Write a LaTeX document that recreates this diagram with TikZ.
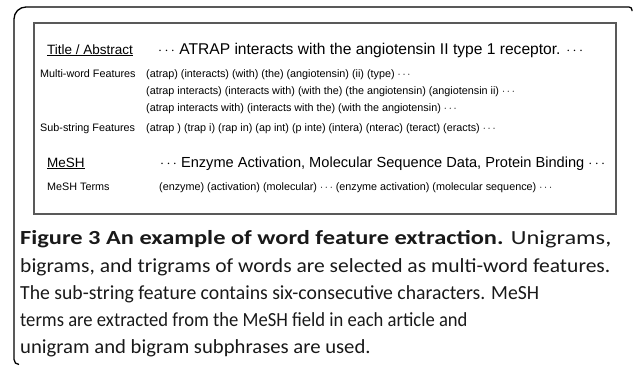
\documentclass[tikz,border=0pt]{standalone}
\usepackage{fontspec}
\setmainfont{Liberation Sans}
\newfontfamily\capfont{Carlito}
\begin{document}
\begin{tikzpicture}[x=1pt,y=-1pt,
  big/.style={anchor=base west,inner sep=0pt,font=\fontsize{13.5}{15}\selectfont},
  bigger/.style={anchor=base west,inner sep=0pt,font=\fontsize{15.6}{17}\selectfont},
  meshline/.style={anchor=base west,inner sep=0pt,font=\fontsize{14.6}{17}\selectfont},
  small/.style={anchor=base west,inner sep=0pt,font=\fontsize{10.8}{12}\selectfont},
  captext/.style={anchor=base west,inner sep=0pt,font=\capfont\fontsize{20}{24}\selectfont,text=black!90},
  frame/.style={line width=1.3pt,black},
  inbox/.style={line width=1.1pt,black!65}]
\useasboundingbox (0,0) rectangle (633,367);
% outer frame
\draw[frame,rounded corners=5] (19,364.5) -- (14,364.5) [rounded corners=12] -- (14,7) [rounded corners=3] -- (632,7) -- (632,11);
% inner box
\draw[inbox] (34,23) rectangle (616,214);
% texts
\node[big] (ta) at (47,54) {\underline{Title / Abstract}};
\node[bigger] (tat) at (158,54) {$\cdots$ ATRAP interacts with the angiotensin II type 1 receptor. $\cdots$};
\node[small] (mw) at (40,77) {Multi-word Features};
\node[small] (mw1) at (146,77) {(atrap) (interacts) (with) (the) (angiotensin) (ii) (type) $\cdots$};
\node[small] (mw2) at (146,94) {(atrap interacts) (interacts with) (with the) (the angiotensin) (angiotensin ii) $\cdots$};
\node[small] (mw3) at (146,111) {(atrap interacts with) (interacts with the) (with the angiotensin) $\cdots$};
\node[small] (ss) at (40,131) {Sub-string Features};
\node[small] (ss1) at (146,131) {(atrap ) (trap i) (rap in) (ap int) (p inte) (intera) (nterac) (teract) (eracts) $\cdots$};
\node[big] (me) at (47,167) {\underline{MeSH}};
\node[meshline] (met) at (160,167) {$\cdots$ Enzyme Activation, Molecular Sequence Data, Protein Binding $\cdots$};
\node[small] (mt) at (47,190) {MeSH Terms};
\node[small] (mt1) at (159,190) {(enzyme) (activation) (molecular) $\cdots$ (enzyme activation) (molecular sequence) $\cdots$};
% caption
\node[captext] (c1) at (20,244) {\scalebox{1.22}[1]{\textbf{Figure 3 An example of word feature extraction.} Unigrams,}};
\node[captext] (c2) at (20,272) {\scalebox{1.077}[1]{bigrams, and trigrams of words are selected as multi-word features.}};
\node[captext] (c3) at (20,299) {\scalebox{0.985}[1]{The sub-string feature contains six-consecutive characters. MeSH}};
\node[captext] (c4) at (20,326) {\scalebox{0.93}[1]{terms are extracted from the MeSH field in each article and}};
\node[captext] (c5) at (20,353) {\scalebox{1.035}[1]{unigram and bigram subphrases are used.}};
\end{tikzpicture}
\end{document}
